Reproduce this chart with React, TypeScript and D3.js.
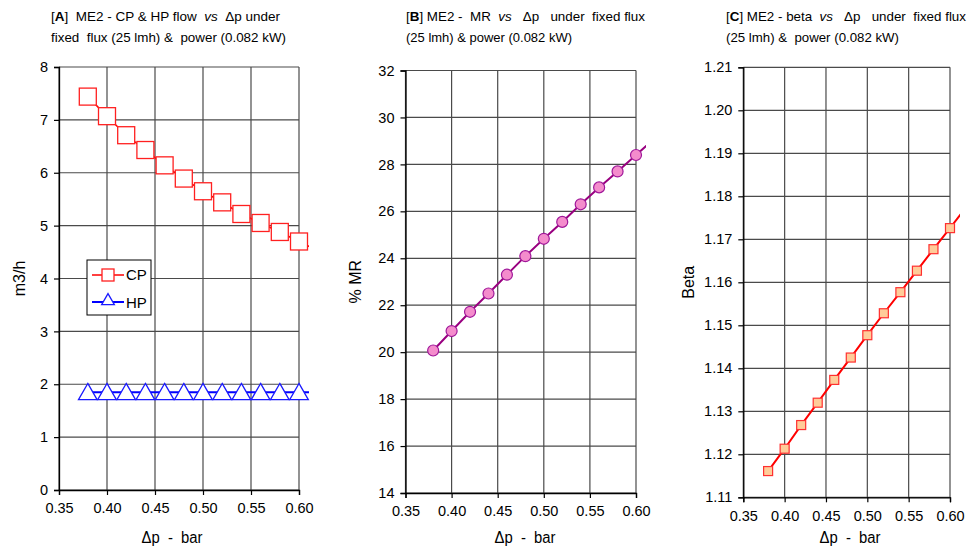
import * as d3 from "d3";
import { useEffect, useRef } from "react";

// Δp values (bar) where markers are drawn
const dp = [0.38, 0.4, 0.42, 0.44, 0.46, 0.48, 0.5, 0.52, 0.54, 0.56, 0.58, 0.6];
// next point in the workbook sits just past the axis max (line only, clipped)
const dpTail = 0.62;

const cpFlow = [7.44, 7.07, 6.71, 6.43, 6.14, 5.89, 5.65, 5.44, 5.22, 5.05, 4.88, 4.7];
const cpTail = 4.52;
const hpFlow = [1.85, 1.85, 1.85, 1.85, 1.85, 1.85, 1.85, 1.85, 1.85, 1.85, 1.85, 1.85];
const hpTail = 1.85;
const mrPct = [20.07, 20.9, 21.72, 22.5, 23.3, 24.09, 24.83, 25.55, 26.3, 27.02, 27.7, 28.4];
const mrTail = 29.1;
const betaVal = [1.1161, 1.1213, 1.1268, 1.132, 1.1373, 1.1425, 1.1477, 1.1528, 1.1577, 1.1627, 1.1677, 1.1726];
const betaTail = 1.1776;

const xTicks = [0.35, 0.4, 0.45, 0.5, 0.55, 0.6];

const W = 968;
const H = 549;
const FONT = "'Liberation Sans', Arial, sans-serif";
const GRID = "#4a4a4a";

type Box = { left: number; right: number; top: number; bottom: number };

function drawFrame(svg: any, box: Box, yDomain: [number, number], yStep: number, yFmt: (v: number) => string,
    yLabel: string, yLabelX: number, xLabelX: number) {
    const x = d3.scaleLinear().domain([0.35, 0.6]).range([box.left, box.right]);
    const y = d3.scaleLinear().domain(yDomain).range([box.bottom, box.top]);
    const yTicks = d3.range(yDomain[0], yDomain[1] + yStep / 2, yStep);

    const g = svg.append("g");
    // сетка
    g.selectAll(".hg").data(yTicks).enter().append("line")
        .attr("x1", box.left).attr("x2", box.right)
        .attr("y1", (d: number) => y(d)).attr("y2", (d: number) => y(d))
        .attr("stroke", GRID).attr("stroke-width", 1.2);
    g.selectAll(".vg").data(xTicks).enter().append("line")
        .attr("x1", (d: number) => x(d)).attr("x2", (d: number) => x(d))
        .attr("y1", box.top).attr("y2", box.bottom)
        .attr("stroke", GRID).attr("stroke-width", 1.2);

    // оси
    const xa = g.append("g").attr("transform", `translate(0,${box.bottom})`)
        .call(d3.axisBottom(x).tickValues(xTicks).tickFormat(d3.format(".2f")).tickSize(5).tickPadding(8));
    const ya = g.append("g").attr("transform", `translate(${box.left},0)`)
        .call(d3.axisLeft(y).tickValues(yTicks).tickFormat(yFmt as any).tickSize(5).tickPadding(6));
    [xa, ya].forEach((a) => {
        a.select(".domain").attr("stroke", "#000").attr("stroke-width", 1.3);
        a.selectAll("line").attr("stroke", "#000").attr("stroke-width", 1.2);
        a.selectAll("text").attr("font-family", FONT).attr("font-size", 14.5).attr("fill", "#000");
    });

    // подписи осей
    svg.append("text").attr("x", xLabelX).attr("y", 543)
        .attr("text-anchor", "middle").attr("font-family", FONT).attr("font-size", 16)
        .attr("xml:space", "preserve").attr("textLength", 61).attr("lengthAdjust", "spacingAndGlyphs")
        .text("Δp  -  bar");
    svg.append("text").attr("transform", `translate(${yLabelX},${(box.top + box.bottom) / 2}) rotate(-90)`)
        .attr("text-anchor", "middle").attr("font-family", FONT).attr("font-size", 16).text(yLabel);

    return { x, y };
}

function clipFor(svg: any, id: string, box: Box) {
    svg.append("clipPath").attr("id", id).append("rect")
        .attr("x", box.left - 20).attr("y", box.top - 10)
        .attr("width", box.right - box.left + 30).attr("height", box.bottom - box.top + 20);
    return `url(#${id})`;
}

function title(svg: any, x: number, letter: string, first: string, rest1: string, len1: number, line2: string, len2: number) {
    const t = svg.append("text").attr("x", x).attr("y", 21).attr("font-family", FONT)
        .attr("font-size", 13.5).attr("xml:space", "preserve")
        .attr("textLength", len1).attr("lengthAdjust", "spacingAndGlyphs");
    t.append("tspan").text("[");
    t.append("tspan").attr("font-weight", "bold").text(letter);
    t.append("tspan").text("]" + first);
    t.append("tspan").attr("font-style", "italic").text("vs");
    t.append("tspan").text(rest1);
    svg.append("text").attr("x", x).attr("y", 42).attr("font-family", FONT)
        .attr("font-size", 13.5).attr("xml:space", "preserve")
        .attr("textLength", len2).attr("lengthAdjust", "spacingAndGlyphs").text(line2);
}

const App = () => {
    const ref = useRef<SVGSVGElement | null>(null);

    useEffect(() => {
        const svg = d3.select(ref.current);
        svg.selectAll("*").remove();
        svg.append("rect").attr("width", W).attr("height", H).attr("fill", "#fff");

        // ---------- [A] CP & HP flow ----------
        const boxA = { left: 59, right: 299, top: 67, bottom: 490 };
        const a = drawFrame(svg, boxA, [0, 8], 1, d3.format("d"), "m3/h", 25, 172);
        const clipA = clipFor(svg, "clipA", boxA);
        const lineA = (vals: number[], tail: number) =>
            d3.line<number>().x((_, i) => a.x(i < dp.length ? dp[i] : dpTail)).y((d) => a.y(d))([...vals, tail]);

        svg.append("path").attr("d", lineA(cpFlow, cpTail)).attr("fill", "none")
            .attr("stroke", "#ff0000").attr("stroke-width", 1.5).attr("clip-path", clipA);
        svg.append("path").attr("d", lineA(hpFlow, hpTail)).attr("fill", "none")
            .attr("stroke", "#0000ff").attr("stroke-width", 2).attr("clip-path", clipA);

        const sq = 17;
        svg.selectAll(".cp").data(cpFlow).enter().append("rect")
            .attr("x", (_: number, i: number) => a.x(dp[i]) - sq / 2)
            .attr("y", (d: number) => a.y(d) - sq / 2)
            .attr("width", sq).attr("height", sq)
            .attr("fill", "#fff").attr("stroke", "#ff2020").attr("stroke-width", 1.3);
        const tri = d3.symbol().type(d3.symbolTriangle).size(150);
        svg.selectAll(".hp").data(hpFlow).enter().append("path")
            .attr("d", tri)
            .attr("transform", (d: number, i: number) => `translate(${a.x(dp[i])},${a.y(d) + 2})`)
            .attr("fill", "#fff").attr("stroke", "#1a1aff").attr("stroke-width", 1.3);

        // легенда
        const lg = svg.append("g").attr("transform", "translate(87,260)");
        lg.append("rect").attr("width", 64).attr("height", 55).attr("fill", "#fff").attr("stroke", "#000");
        lg.append("line").attr("x1", 5).attr("x2", 37).attr("y1", 15).attr("y2", 15).attr("stroke", "#ff0000").attr("stroke-width", 1.5);
        lg.append("rect").attr("x", 15).attr("y", 9).attr("width", 12).attr("height", 12)
            .attr("fill", "#fff").attr("stroke", "#ff2020").attr("stroke-width", 1.3);
        lg.append("text").attr("x", 39).attr("y", 20).attr("font-family", FONT).attr("font-size", 15).text("CP");
        lg.append("line").attr("x1", 5).attr("x2", 37).attr("y1", 42).attr("y2", 42).attr("stroke", "#0000ff").attr("stroke-width", 2);
        lg.append("path").attr("d", d3.symbol().type(d3.symbolTriangle).size(70)).attr("transform", "translate(21,41)")
            .attr("fill", "#fff").attr("stroke", "#1a1aff").attr("stroke-width", 1.3);
        lg.append("text").attr("x", 39).attr("y", 48).attr("font-family", FONT).attr("font-size", 15).text("HP");

        title(svg, 51, "A", "  ME2 - CP & HP flow  ", "  Δp under", 229, "fixed  flux (25 lmh) &  power (0.082 kW)", 235);

        // ---------- [B] MR ----------
        const boxB = { left: 405.5, right: 636, top: 70.5, bottom: 493 };
        const b = drawFrame(svg, boxB, [14, 32], 2, d3.format("d"), "% MR", 361, 525);
        const clipB = clipFor(svg, "clipB", boxB);
        svg.append("path")
            .attr("d", d3.line<number>().x((_, i) => b.x(i < dp.length ? dp[i] : dpTail)).y((d) => b.y(d))([...mrPct, mrTail]))
            .attr("fill", "none").attr("stroke", "#990080").attr("stroke-width", 2).attr("clip-path", clipB);
        svg.selectAll(".mr").data(mrPct).enter().append("circle")
            .attr("cx", (_: number, i: number) => b.x(dp[i])).attr("cy", (d: number) => b.y(d))
            .attr("r", 5.5).attr("fill", "#f48ccc").attr("stroke", "#a0189a").attr("stroke-width", 1.2);

        title(svg, 406, "B", " ME2 -  MR  ", "   Δp   under  fixed flux", 239, "(25 lmh) & power (0.082 kW)", 166);

        // ---------- [C] beta ----------
        const boxC = { left: 743.3, right: 950, top: 67.3, bottom: 497.3 };
        const c = drawFrame(svg, boxC, [1.11, 1.21], 0.01, d3.format(".2f"), "Beta", 694, 850);
        const clipC = clipFor(svg, "clipC", boxC);
        svg.append("path")
            .attr("d", d3.line<number>().x((_, i) => c.x(i < dp.length ? dp[i] : dpTail)).y((d) => c.y(d))([...betaVal, betaTail]))
            .attr("fill", "none").attr("stroke", "#ff0000").attr("stroke-width", 2).attr("clip-path", clipC);
        const bs = 9;
        svg.selectAll(".bt").data(betaVal).enter().append("rect")
            .attr("x", (_: number, i: number) => c.x(dp[i]) - bs / 2)
            .attr("y", (d: number) => c.y(d) - bs / 2)
            .attr("width", bs).attr("height", bs)
            .attr("fill", "#ffcc99").attr("stroke", "#ff3030").attr("stroke-width", 1.2);

        title(svg, 726, "C", " ME2 - beta  ", "   Δp   under  fixed flux", 240, "(25 lmh) &  power (0.082 kW)", 173);
    }, []);

    return (
        <div style={{ position: "absolute", left: 0, top: 0 }}>
            <svg ref={ref} width={W} height={H} style={{ display: "block" }}></svg>
        </div>
    );
};

export default App;
